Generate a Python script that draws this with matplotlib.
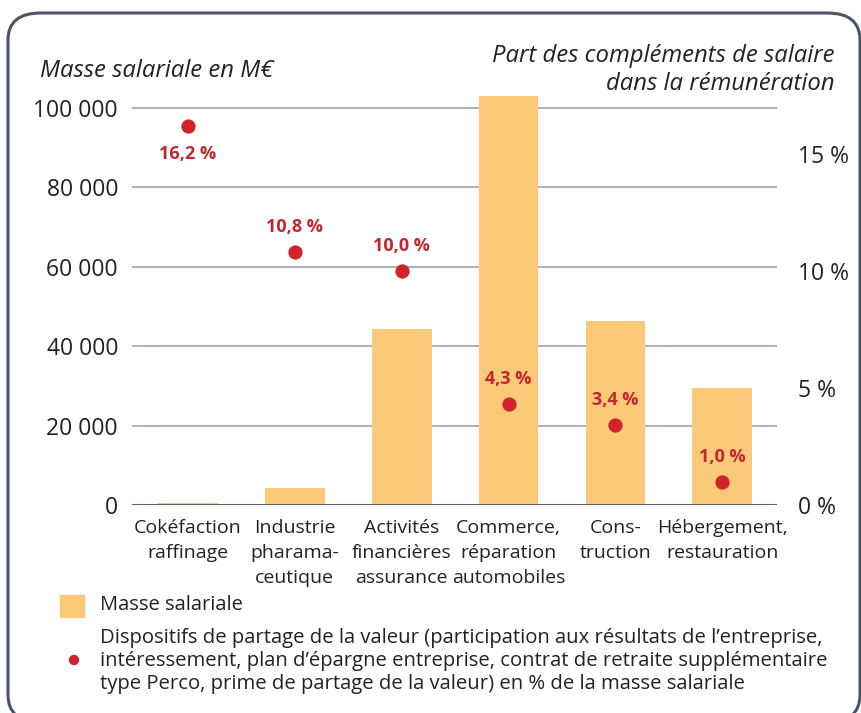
import matplotlib
matplotlib.use('Agg')
from matplotlib import pyplot as plt
from matplotlib.patches import FancyBboxPatch, Ellipse, Rectangle
from matplotlib.ticker import FuncFormatter
import numpy as np

# ── Data ──────────────────────────────────────────────────────────────────────
categories = ['Cokéfaction\nraffinage', 'Industrie\npharama-\nceutique',
              'Activités\nfinancières\nassurance', 'Commerce,\nréparation\nautomobiles',
              'Cons-\ntruction', 'Hébergement,\nrestauration']
masse_salariale = [600, 4300, 44300, 103000, 46300, 29500]      # M€
part_complements = [16.2, 10.8, 10.0, 4.3, 3.4, 1.0]             # %
part_labels = ['16,2 %', '10,8 %', '10,0 %', '4,3 %', '3,4 %', '1,0 %']
label_above = [False, True, True, True, True, True]
left_ticks = [0, 20000, 40000, 60000, 80000, 100000]
right_ticks = [0, 5, 10, 15]
# ──────────────────────────────────────────────────────────────────────────────

BAR = '#fbc978'
RED = '#d2232a'
RED_TXT = '#c4262e'
GRID = '#aab1be'
BASE = '#5b6475'
TXT = '#222222'
plt.rcParams['font.family'] = ['Open Sans', 'DejaVu Sans']

W, H = 861, 713
fig = plt.figure(figsize=(W / 100, H / 100), dpi=100)

# rounded frame, cut off at right and bottom
frame = FancyBboxPatch((8 / W, 1 - 722 / H), 852 / W, 709 / H,
                       boxstyle='round,pad=0,rounding_size=0.038',
                       transform=fig.transFigure, fill=False,
                       edgecolor='#4c5566', linewidth=2.2)
fig.patches.append(frame)

ax = fig.add_axes([132 / W, 1 - 505 / H, (777 - 132) / W, (505 - 92) / H])
ax2 = ax.twinx()

x = np.arange(len(categories))
ymax = 104000
ax.set_ylim(0, ymax)
ax.set_xlim(-0.52, 5.51)
ax2.set_ylim(0, 16.97 * ymax / 100000)

for y in left_ticks[1:]:
    ax.axhline(y, color=GRID, linewidth=1.4, zorder=0)
ax.bar(x, masse_salariale, width=0.56, color=BAR, zorder=2)
ax.axhline(0, color=BASE, linewidth=2.2, zorder=3)

ax2.scatter(x, part_complements, s=105, color=RED, zorder=4, linewidths=0)
for xi, yi, lab, up in zip(x, part_complements, part_labels, label_above):
    ax2.annotate(lab, (xi, yi), xytext=(0, 18 if up else -20),
                 textcoords='offset points', ha='center', va='center',
                 color=RED_TXT, fontsize=13, fontweight='bold', zorder=5)

for a in (ax, ax2):
    for s in a.spines.values():
        s.set_visible(False)

ax.set_yticks(left_ticks)
ax.yaxis.set_major_formatter(FuncFormatter(lambda v, p: f'{int(v):,}'.replace(',', ' ')))
ax.tick_params(axis='y', length=0, pad=10, labelsize=16.5, labelcolor=TXT)
ax2.set_yticks(right_ticks)
ax2.set_yticklabels([f'{t} %' for t in right_ticks])
ax2.tick_params(axis='y', length=0, pad=15, labelsize=16.5, labelcolor=TXT)

ax.set_xticks(x)
ax.set_xticklabels(categories, fontsize=14, color=TXT, linespacing=1.5, va='top')
ax.tick_params(axis='x', length=0, pad=10)

# axis titles
fig.text(40 / W, 1 - 71 / H, 'Masse salariale en M€', style='italic', fontsize=17.2,
         color=TXT, ha='left', va='center')
fig.text(835 / W, 1 - 70 / H, 'Part des compléments de salaire\ndans la rémunération',
         style='italic', fontsize=17.2, color=TXT, ha='right', va='center', linespacing=1.25)

# legend
fig.patches.append(Rectangle((60 / W, 1 - 617 / H), 24 / W, 22 / H,
                             transform=fig.transFigure, color=BAR))
fig.text(100 / W, 1 - 605 / H, 'Masse salariale', fontsize=14.5,
         color=TXT, ha='left', va='center')
fig.patches.append(Ellipse((74 / W, 1 - 660 / H), 9 / W, 9 / H,
                           transform=fig.transFigure, color=RED))
fig.text(100 / W, 1 - 661 / H,
         'Dispositifs de partage de la valeur (participation aux résultats de l’entreprise,\n'
         'intéressement, plan d’épargne entreprise, contrat de retraite supplémentaire\n'
         'type Perco, prime de partage de la valeur) en % de la masse salariale',
         fontsize=14.6, color=TXT, ha='left', va='center', linespacing=1.22)

plt.savefig('out.png', dpi=100)
